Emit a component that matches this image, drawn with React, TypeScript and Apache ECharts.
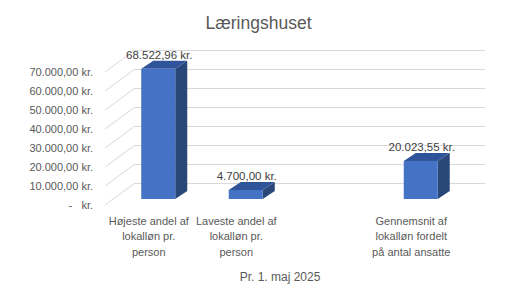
import React, { useEffect, useRef } from "react";
import * as echarts from "echarts";

const title = "Læringshuset";
const axisName = "Pr. 1. maj 2025";
const categories = [
  "Højeste andel af\nlokalløn pr.\nperson",
  "Laveste andel af\nlokalløn pr.\nperson",
  "",
  "Gennemsnit af\nlokalløn fordelt\npå antal ansatte",
];
const values: (number | null)[] = [68522.96, 4700.0, null, 20023.55];
const yTicks = [0, 10000, 20000, 30000, 40000, 50000, 60000, 70000];

const fmtKr = (v: number) => {
  if (v === 0) return "-   kr.";
  const [i, d] = v.toFixed(2).split(".");
  const ii = i.replace(/\B(?=(\d{3})+(?!\d))/g, ".");
  return `${ii},${d} kr.`;
};

const FONT = "Liberation Sans";
const DEPTH_X = 30;
const DEPTH_Y = 22;

export default function App() {
  const ref = useRef<HTMLDivElement>(null);
  useEffect(() => {
    const chart = echarts.init(ref.current!, undefined, { renderer: "svg" });
    const barData = values
      .map((v, i) => (v == null ? null : [i, v]))
      .filter((d) => d != null);
    chart.setOption({
      animation: false,
      backgroundColor: "#ffffff",
      title: {
        text: title,
        left: "center",
        top: 9,
        textStyle: { fontFamily: FONT, fontSize: 17.5, fontWeight: "normal", color: "#595959" },
      },
      grid: [
        { left: 105, right: 62, top: 72, bottom: 85 },
        { left: 105 + DEPTH_X, right: 62 - DEPTH_X, top: 72 - DEPTH_Y, bottom: 85 + DEPTH_Y },
      ],
      xAxis: [
        {
          type: "category",
          gridIndex: 0,
          data: categories,
          axisLine: { show: false },
          axisTick: { show: false },
          name: axisName,
          nameLocation: "middle",
          nameGap: 66,
          nameTextStyle: { fontFamily: FONT, fontSize: 12, color: "#595959" },
          axisLabel: {
            interval: 0,
            margin: 8,
            fontFamily: FONT,
            fontSize: 11,
            lineHeight: 15.5,
            color: "#595959",
            align: "center",
          },
        },
        {
          type: "category",
          gridIndex: 1,
          data: categories,
          show: false,
        },
      ],
      yAxis: [
        {
          type: "value",
          gridIndex: 0,
          min: 0,
          max: 70000,
          interval: 10000,
          axisLine: { show: false },
          axisTick: { show: false },
          splitLine: { show: false },
          axisLabel: {
            margin: 12,
            fontFamily: FONT,
            fontSize: 11,
            color: "#595959",
            formatter: (v: number) => fmtKr(v),
          },
        },
        {
          type: "value",
          gridIndex: 1,
          min: 0,
          max: 70000,
          interval: 10000,
          axisLine: { show: false },
          axisTick: { show: false },
          axisLabel: { show: false },
          splitLine: { show: true, lineStyle: { color: "#d9d9d9", width: 1 } },
        },
      ],
      series: [
        {
          type: "custom",
          xAxisIndex: 0,
          yAxisIndex: 0,
          data: yTicks.map((t) => [0, t]),
          silent: true,
          z: 1,
          renderItem: (params: any, api: any) => {
            const cs = params.coordSys;
            const p = api.coord([0, api.value(1)]);
            return {
              type: "line",
              shape: { x1: cs.x, y1: p[1], x2: cs.x + DEPTH_X, y2: p[1] - DEPTH_Y },
              style: { stroke: "#d9d9d9", lineWidth: 1 },
            };
          },
        },
        {
          type: "custom",
          xAxisIndex: 0,
          yAxisIndex: 0,
          data: barData,
          z: 5,
          renderItem: (params: any, api: any) => {
            const base = api.coord([api.value(0), 0]);
            const top = api.coord([api.value(0), api.value(1)]);
            const cx = base[0] + 9.5;
            const w = 34;
            const L = cx - w / 2;
            const R = cx + w / 2;
            const B = base[1] - 6;
            const T = top[1] - 6;
            const dx = 12;
            const dy = 8;
            return {
              type: "group",
              children: [
                {
                  type: "polygon",
                  shape: { points: [[R, T], [R + dx, T - dy], [R + dx, B - dy], [R, B]] },
                  style: { fill: "#2A4779" },
                },
                {
                  type: "polygon",
                  shape: { points: [[L, T], [R, T], [R + dx, T - dy], [L + dx, T - dy]] },
                  style: { fill: "#30549A" },
                },
                {
                  type: "rect",
                  shape: { x: L, y: T, width: w, height: B - T },
                  style: { fill: "#4472C4" },
                },
                {
                  type: "text",
                  x: cx + 1,
                  y: T - 14,
                  style: {
                    text: fmtKr(api.value(1)),
                    fontFamily: FONT,
                    fontSize: 11.5,
                    fill: "#404040",
                    align: "center",
                    verticalAlign: "middle",
                  },
                },
              ],
            };
          },
        },
      ],
    });
    return () => chart.dispose();
  }, []);
  return (
    <div
      ref={ref}
      style={{ position: "fixed", left: 0, top: 0, width: 517, height: 290, background: "#fff" }}
    />
  );
}
